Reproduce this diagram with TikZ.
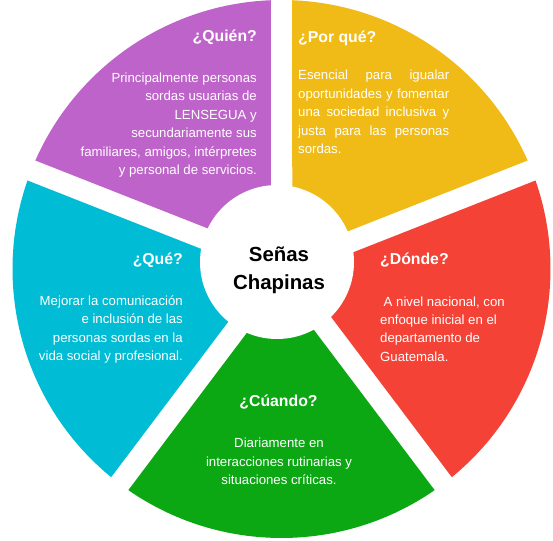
\documentclass[tikz,border=0pt]{standalone}
\usepackage{fontspec}
\setmainfont{Liberation Sans}
\usepackage{tikz}

\definecolor{segpurple}{RGB}{190,99,201}
\definecolor{segyellow}{RGB}{240,187,22}
\definecolor{segred}{RGB}{244,67,54}
\definecolor{seggreen}{RGB}{12,168,20}
\definecolor{segcyan}{RGB}{0,188,212}

\tikzset{
  titletext/.style={text=white,inner sep=0pt,font=\fontsize{15.8}{19}\selectfont\bfseries},
  bodytext/.style={text=white,inner sep=0pt,font=\fontsize{13.2}{18.4}\selectfont},
  hubtext/.style={text=black,inner sep=0pt,align=center,font=\fontsize{20.4}{27.7}\selectfont\bfseries}
}

\begin{document}
\begin{tikzpicture}[x=1pt,y=1pt]
      \useasboundingbox (-281.5,-271) rectangle (271.5,269);
      \fill[white] (-281.5,-271) rectangle (271.5,269);
      \pgfmathsetmacro{\Ro}{269}
      \pgfmathsetmacro{\Ri}{40}
      \pgfmathsetmacro{\dO}{asin(10.75/\Ro)}
      \pgfmathsetmacro{\dI}{asin(10.75/\Ri)}
      % the five rings, gaps kept the same width all along
      \foreach \col/\a/\b in {segpurple/90/158.5, segyellow/21.5/90, segred/-53/21.5, seggreen/-127/-53, segcyan/158.5/233}
        \fill[\col] ({\a+\dO}:\Ro) arc[start angle=\a+\dO, end angle=\b-\dO, radius=\Ro]
          -- ({\b-\dI}:\Ri) arc[start angle=\b-\dI, end angle=\a+\dI, radius=\Ri] -- cycle;
      \fill[white] (-4.5,7) circle[radius=77];
      \node[hubtext] (hub) at (-2.5,-1) {Señas\\Chapinas};

      \node[titletext,anchor=east] (quien) at (-24.5,232) {¿Quién?};
      \node[bodytext,anchor=east,align=right] (quientxt) at (-24.5,144) {Principalmente personas\\sordas usuarias de\\LENSEGUA y\\secundariamente sus\\familiares, amigos, intérpretes\\y personal de servicios.};

      \node[titletext,anchor=west] (porque) at (16.5,231) {¿Por qué?};
      \node[bodytext,anchor=west,align=left] (porquetxt) at (16.5,157) {\makebox[151pt][s]{Esencial para igualar}\\\makebox[151pt][s]{oportunidades y fomentar}\\\makebox[151pt][s]{una sociedad inclusiva y}\\\makebox[151pt][s]{justa para las personas}\\sordas.};

      \node[titletext,anchor=west] (donde) at (98.5,9) {¿Dónde?};
      \node[bodytext,anchor=west,align=left] (dondetxt) at (98.5,-60) {\hspace{3.5pt}A nivel nacional, con\\enfoque inicial en el\\departamento de\\Guatemala.};

      \node[titletext,anchor=east] (que) at (-98.5,9) {¿Qué?};
      \node[bodytext,anchor=east,align=right] (quetxt) at (-98.5,-60.5) {Mejorar la comunicación\\e inclusión de las\\personas sordas en la\\vida social y profesional.};

      \node[titletext] (cuando) at (-3,-133) {¿Cúando?};
      \node[bodytext,align=center] (cuandotxt) at (-2.5,-192.5) {Diariamente en\\interacciones rutinarias y\\situaciones críticas.};
\end{tikzpicture}
\end{document}
